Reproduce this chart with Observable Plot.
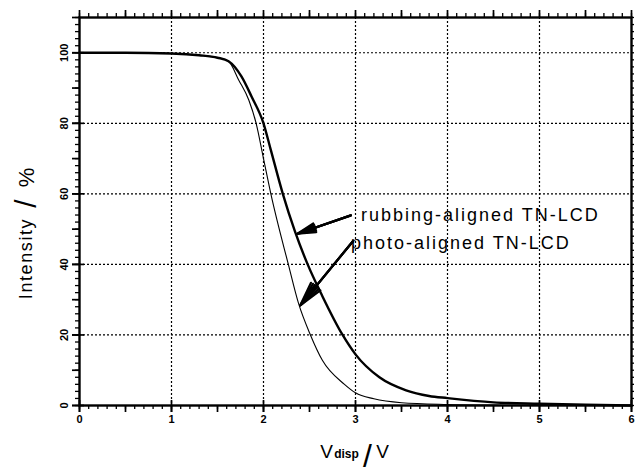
<!DOCTYPE html>
<html><head><meta charset="utf-8">
<script src="https://cdn.jsdelivr.net/npm/d3@7"></script>
<script src="https://cdn.jsdelivr.net/npm/@observablehq/plot@0.6"></script>
<style>
body{margin:0;background:#fff} svg{display:block}
g.annot text{letter-spacing:2px}
g.ytitle text{letter-spacing:1.6px}
</style>
</head><body><div id="chart"></div>
<script>
// Data
const rubbingV = [0, 0.5, 1.0, 1.3, 1.5, 1.62, 1.76, 1.87, 2.0, 2.08, 2.21, 2.34, 2.48, 2.64, 2.86, 3.0, 3.26, 3.55, 3.8, 4.0, 4.5, 5.0, 5.5, 6.0];
const rubbingI = [100, 100, 99.8, 99.3, 98.6, 97.6, 93.3, 87.6, 80, 72.4, 60, 49.5, 40, 31, 20, 14.5, 8.0, 4.3, 2.7, 2.1, 0.9, 0.5, 0.2, 0];
const photoV = [0, 0.5, 1.0, 1.3, 1.5, 1.62, 1.73, 1.84, 1.92, 2.0, 2.08, 2.27, 2.38, 2.51, 2.64, 2.88, 3.0, 3.2, 3.5, 4.0, 4.5, 5.0, 6.0];
const photoI = [100, 100, 99.8, 99.3, 98.6, 97.6, 92.3, 86.6, 80, 70, 60, 40, 29, 20, 12.8, 6.0, 3.6, 1.9, 0.8, 0.3, 0.1, 0, 0];
const seriesNames = ["rubbing-aligned TN-LCD", "photo-aligned TN-LCD"];
const xTickLabels = [0, 1, 2, 3, 4, 5, 6];
const yTickLabels = [0, 20, 40, 60, 80, 100];
const xGrid = [1, 2, 3, 4, 5];
const yGrid = [20, 40, 60, 80, 100];

const rubbing = rubbingV.map((v, i) => ({V: v, I: rubbingI[i]}));
const photo = photoV.map((v, i) => ({V: v, I: photoI[i]}));
const xMinor = d3.range(0, 61).map(i => i / 10);
const xMid = d3.range(0, 13).map(i => i / 2);
const yMinor = d3.range(0, 56).map(i => i * 2);
const yMid = d3.range(0, 12).map(i => i * 10);

const W = 635, H = 473, mL = 79, mR = 4, mT = 17, mB = 68;
const xDom = [0, 6], yDom = [0, 110];
const ux = (xDom[1] - xDom[0]) / (W - mL - mR); // data units per pixel
const uy = (yDom[1] - yDom[0]) / (H - mT - mB);

const font = "Liberation Sans, Arial, sans-serif";

const arrows = [
  {x1: 2.95, y1: 53.9, x2: 2.37, y2: 48.7},
  {x1: 2.97, y1: 46.5, x2: 2.40, y2: 28.4}
];

const tk = {stroke: "#000"};
const mid = {textAnchor: "middle", lineAnchor: "middle"};
const plot = Plot.plot({
  width: W, height: H,
  marginLeft: mL, marginRight: mR, marginTop: mT, marginBottom: mB,
  style: {fontFamily: font, background: "#fff", color: "#000", overflow: "visible"},
  x: {domain: xDom, axis: null},
  y: {domain: yDom, axis: null},
  marks: [
    Plot.gridX(xGrid, {stroke: "#000", strokeOpacity: 1, strokeDasharray: "2,2", strokeWidth: 1.2}),
    Plot.gridY(yGrid, {stroke: "#000", strokeOpacity: 1, strokeDasharray: "2,2", strokeWidth: 1.2}),
    Plot.frame({stroke: "#000", strokeWidth: 2.4}),
    // bottom ticks
    Plot.ruleX(xMinor, {...tk, x: d => d, y1: 0, y2: -4 * uy, strokeWidth: 1.3}),
    Plot.ruleX(xMid, {...tk, x: d => d, y1: 0, y2: -7 * uy, strokeWidth: 1.7}),
    Plot.ruleX(xTickLabels, {...tk, x: d => d, y1: 5 * uy, y2: -7 * uy, strokeWidth: 1.7}),
    // top ticks
    Plot.ruleX(xMinor, {...tk, x: d => d, y1: yDom[1], y2: yDom[1] + 4 * uy, strokeWidth: 1.3}),
    Plot.ruleX(xMid, {...tk, x: d => d, y1: yDom[1], y2: yDom[1] + 7 * uy, strokeWidth: 1.7}),
    // left ticks
    Plot.ruleY(yMinor, {...tk, y: d => d, x1: 0, x2: -4 * ux, strokeWidth: 1.3}),
    Plot.ruleY(yMid, {...tk, y: d => d, x1: 0, x2: -7 * ux, strokeWidth: 1.7}),
    Plot.ruleY(yTickLabels, {...tk, y: d => d, x1: 5 * ux, x2: -7 * ux, strokeWidth: 1.7}),
    // right ticks
    Plot.ruleY(yMinor, {...tk, y: d => d, x1: xDom[1], x2: xDom[1] + 3 * ux, strokeWidth: 1.3}),
    // tick labels
    Plot.text(xTickLabels, {...mid, x: d => d, text: d => String(d), frameAnchor: "bottom", dy: 14, fontSize: 11, fontWeight: "bold"}),
    Plot.text(yTickLabels, {...mid, y: d => d, text: d => String(d), frameAnchor: "left", dx: -15, rotate: -90, fontSize: 11, fontWeight: "bold"}),
    // curves
    Plot.line(photo, {x: "V", y: "I", stroke: "#000", strokeWidth: 1.1, curve: "monotone-x"}),
    Plot.line(rubbing, {x: "V", y: "I", stroke: "#000", strokeWidth: 2.4, curve: "monotone-x"}),
    // arrows (filled look with several head angles)
    Plot.arrow(arrows, {x1: "x1", y1: "y1", x2: "x2", y2: "y2", stroke: "#000", strokeWidth: 2.2, headLength: 17, headAngle: 28}),
    Plot.arrow(arrows, {x1: "x1", y1: "y1", x2: "x2", y2: "y2", stroke: "#000", strokeWidth: 2.2, headLength: 17, headAngle: 18}),
    Plot.arrow(arrows, {x1: "x1", y1: "y1", x2: "x2", y2: "y2", stroke: "#000", strokeWidth: 2.2, headLength: 17, headAngle: 8}),
    // annotation labels
    Plot.text([seriesNames[0]], {x: 3.06, y: 54.0, text: d => d, textAnchor: "start", fontSize: 18, fill: "#000", className: "annot"}),
    Plot.text([seriesNames[1]], {x: 2.95, y: 46.1, text: d => d, textAnchor: "start", fontSize: 18, fill: "#000", className: "annot"}),
    // axis titles
    Plot.text(["V"], {...mid, text: d => d, frameAnchor: "bottom", dx: -29, dy: 46, fontSize: 19}),
    Plot.text(["disp"], {...mid, text: d => d, frameAnchor: "bottom", dx: -9, dy: 49, fontSize: 12, fontWeight: "bold"}),
    Plot.text(["/"], {...mid, text: d => d, frameAnchor: "bottom", dx: 12, dy: 51, fontSize: 32}),
    Plot.text(["V"], {...mid, text: d => d, frameAnchor: "bottom", dx: 27, dy: 46, fontSize: 19}),
    Plot.text(["Intensity"], {...mid, text: d => d, frameAnchor: "left", dx: -53, dy: 47, rotate: -90, fontSize: 18, className: "ytitle"}),
    Plot.text(["/"], {...mid, text: d => d, frameAnchor: "left", dx: -53, dy: -8, rotate: -90, fontSize: 30}),
    Plot.text(["%"], {...mid, text: d => d, frameAnchor: "left", dx: -53, dy: -34, rotate: -90, fontSize: 22})
  ]
});
document.getElementById("chart").appendChild(plot);
</script>
</body></html>
